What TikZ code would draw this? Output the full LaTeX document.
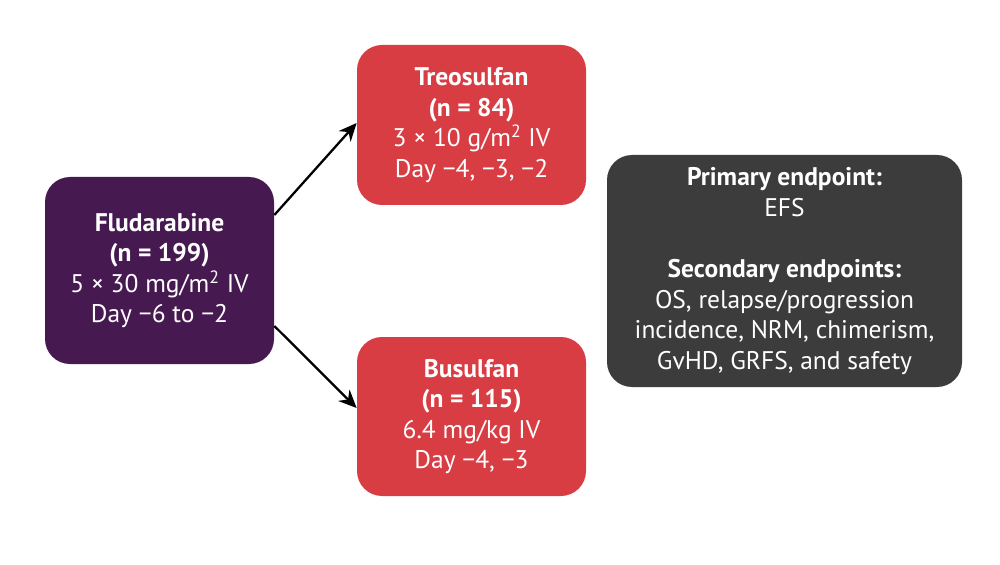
\documentclass[tikz,border=0pt]{standalone}
\usepackage{fontspec}
\setmainfont{PT Sans}
\usepackage{tikz}
\usetikzlibrary{positioning,arrows.meta}
\definecolor{fludpurple}{HTML}{461A50}
\definecolor{armred}{HTML}{D93D44}
\definecolor{endgrey}{HTML}{3C3C3C}

\begin{document}
\begin{tikzpicture}
        [every node/.style={rounded corners=0.5cm,text=white,align=center,
          inner sep=0pt,font=\fontsize{14.5}{17.4}\selectfont},
         armbox/.style={fill=armred,minimum width=4.58cm},
         arrow/.style={-{Stealth[length=3.6mm,width=3.2mm]},line width=1.3pt,black}]
        \useasboundingbox (0,0) rectangle (20,11.28);
        \node[fill=fludpurple,minimum width=4.58cm,minimum height=3.74cm] (flud) at (3.19, 5.87)
          {\textbf{Fludarabine}\\\textbf{(n = 199)}\\5 × 30 mg/m\textsuperscript{2} IV\\Day −6 to −2};
        \node[armbox,minimum height=3.2cm] (treo) at (9.43, 8.78)
          {\textbf{Treosulfan}\\\textbf{(n = 84)}\\3 × 10 g/m\textsuperscript{2} IV\\Day −4, −3, −2};
        \node[armbox,minimum height=3.18cm] (busu) at (9.43, 2.95)
          {\textbf{Busulfan}\\\textbf{(n = 115)}\\6.4 mg/kg IV\\Day −4, −3};
        \node[fill=endgrey,minimum width=7.1cm,minimum height=4.64cm] (endp) at (15.69, 5.86)
          {\textbf{Primary endpoint:}\\EFS\\[17.4pt]\textbf{Secondary endpoints:}\\OS, relapse/progression\\incidence, NRM, chimerism,\\GvHD, GRFS, and safety};

        \foreach \dy/\to/\ty in {1.11/treo/0.04, -1.11/busu/0.17}
            \draw[arrow] ([yshift=\dy cm]flud.east) -- ([yshift=\ty cm]\to.west);

      \end{tikzpicture}
\end{document}
